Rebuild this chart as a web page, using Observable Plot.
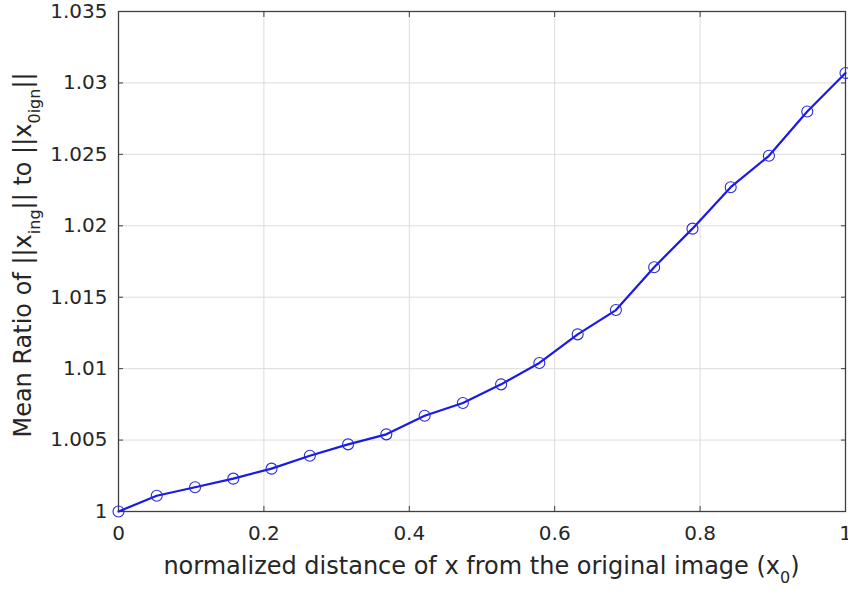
<!DOCTYPE html>
<html>
<head>
<meta charset="utf-8">
<script src="https://cdn.jsdelivr.net/npm/d3@7"></script>
<script src="https://cdn.jsdelivr.net/npm/@observablehq/plot@0.6"></script>
<style>
  body { margin: 0; background: #fff; }
  svg { display: block; }
</style>
</head>
<body>
<div id="chart"></div>
<script>
// Normalized distance of x from the original image x0 (20 samples)
const distance = [0, 0.0526, 0.1053, 0.1579, 0.2105, 0.2632, 0.3158, 0.3684, 0.4211, 0.4737,
                  0.5263, 0.5789, 0.6316, 0.6842, 0.7368, 0.7895, 0.8421, 0.8947, 0.9474, 1];
// Mean ratio of ||x_ing|| to ||x_0ign||
const meanRatio = [1.0000, 1.0011, 1.0017, 1.0023, 1.0030, 1.0039, 1.0047, 1.0054, 1.0067, 1.0076,
                   1.0089, 1.0104, 1.0124, 1.0141, 1.0171, 1.0198, 1.0227, 1.0249, 1.0280, 1.0307];

const xTicks = [0, 0.2, 0.4, 0.6, 0.8, 1];
const xTickLabels = ["0", "0.2", "0.4", "0.6", "0.8", "1"];
const yTicks = [1, 1.005, 1.01, 1.015, 1.02, 1.025, 1.03, 1.035];
const yTickLabels = ["1", "1.005", "1.01", "1.015", "1.02", "1.025", "1.03", "1.035"];

const points = distance.map((d, i) => ({distance: d, ratio: meanRatio[i]}));

const axisColor = "#404040";
const textColor = "#262626";
const lineColor = "#1a1ae4";
const markerColor = "#2a2ad4";

const chart = Plot.plot({
  width: 848,
  height: 590,
  marginLeft: 118,
  marginRight: 3,
  marginTop: 11,
  marginBottom: 79,
  style: {fontFamily: "DejaVu Sans", fontSize: "20px", color: textColor, background: "#fff", overflow: "visible"},
  x: {domain: [0, 1]},
  y: {domain: [1, 1.035]},
  marks: [
    Plot.gridX(xTicks, {stroke: "#dcdcdc", strokeOpacity: 1}),
    Plot.gridY(yTicks, {stroke: "#dcdcdc", strokeOpacity: 1}),
    Plot.axisX(xTicks, {anchor: "bottom", tickSize: -5, tickPadding: 19, stroke: axisColor,
      tickFormat: d => xTickLabels[xTicks.indexOf(d)], label: null}),
    Plot.axisX(xTicks, {anchor: "top", tickSize: -5, stroke: axisColor, tickFormat: () => "", label: null}),
    Plot.axisY(yTicks, {anchor: "left", tickSize: -5, tickPadding: 16, stroke: axisColor,
      tickFormat: d => yTickLabels[yTicks.indexOf(d)], label: null}),
    Plot.axisY(yTicks, {anchor: "right", tickSize: -5, stroke: axisColor, tickFormat: () => "", label: null}),
    Plot.frame({stroke: axisColor, strokeWidth: 1.3}),
    Plot.line(points, {x: "distance", y: "ratio", stroke: lineColor, strokeWidth: 2.2}),
    Plot.dot(points, {x: "distance", y: "ratio", r: 5.5, stroke: markerColor, strokeWidth: 1.1, fill: "none"})
  ]
});

document.getElementById("chart").append(chart);

// Axis titles with subscripts
const svg = d3.select(chart);
const [x0, x1] = chart.scale("x").range;
const [y0, y1] = chart.scale("y").range;
const cx = (x0 + x1) / 2;
const cy = (y0 + y1) / 2 - 6;

function richLabel(sel, runs) {
  let shifted = false;
  for (const [s, sub] of runs) {
    const t = sel.append("tspan").text(s);
    if (sub) { t.attr("font-size", 16).attr("dy", shifted ? 0 : 9); shifted = true; }
    else { t.attr("dy", shifted ? -9 : 0); shifted = false; }
  }
}

const xLabel = svg.append("text")
  .attr("x", cx).attr("y", 574)
  .attr("text-anchor", "middle")
  .attr("font-family", "DejaVu Sans").attr("font-size", 24).attr("fill", textColor);
richLabel(xLabel, [["normalized distance of x from the original image (x", false], ["0", true], [")", false]]);

const yLabel = svg.append("text")
  .attr("transform", `translate(31,${cy}) rotate(-90)`)
  .attr("text-anchor", "middle")
  .attr("font-family", "DejaVu Sans").attr("font-size", 24).attr("fill", textColor);
richLabel(yLabel, [["Mean Ratio of ||x", false], ["ing", true], ["|| to ||x", false], ["0ign", true], ["||", false]]);
</script>
</body>
</html>
